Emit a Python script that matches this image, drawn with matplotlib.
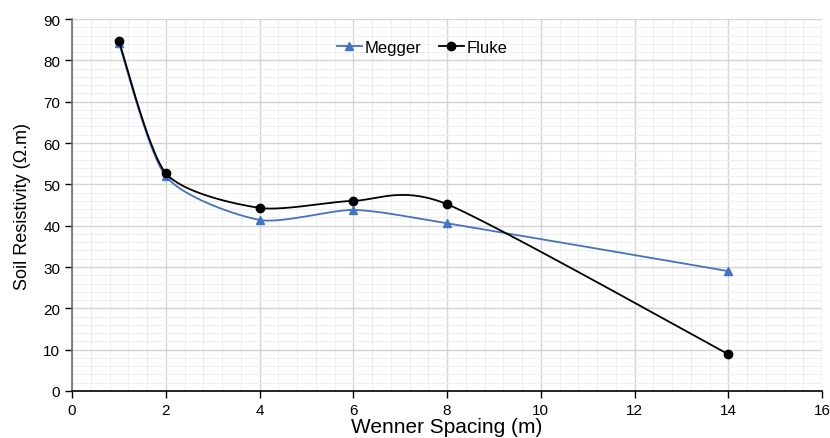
import numpy as np
import matplotlib
matplotlib.use("Agg")
import matplotlib.pyplot as plt

plt.rcParams['font.family'] = ['Liberation Sans', 'DejaVu Sans']

spacing = [1, 2, 4, 6, 8, 14]
megger = [84.2, 52.0, 41.4, 43.8, 40.6, 29.0]
fluke = [84.7, 52.7, 44.3, 46.0, 45.2, 8.9]

x_ticks = [0, 2, 4, 6, 8, 10, 12, 14, 16]
y_ticks = [0, 10, 20, 30, 40, 50, 60, 70, 80, 90]


def smooth(xs, ys, k=0.12, n=50):
    """Smoothed line (cardinal Bezier) drawn through the data points."""
    P = np.column_stack([xs, ys]).astype(float)
    out = []
    for i in range(len(P) - 1):
        p0 = P[i - 1] if i > 0 else P[i]
        p1 = P[i]
        p2 = P[i + 1]
        p3 = P[i + 2] if i + 2 < len(P) else P[i + 1]
        c1 = p1 + (p2 - p0) * k
        c2 = p2 - (p3 - p1) * k
        t = np.linspace(0, 1, n)[:, None]
        seg = ((1 - t) ** 3) * p1 + 3 * ((1 - t) ** 2) * t * c1 + 3 * (1 - t) * t ** 2 * c2 + t ** 3 * p2
        out.append(seg if i == 0 else seg[1:])
    out = np.vstack(out)
    return out[:, 0], out[:, 1]


fig = plt.figure(figsize=(8.3, 4.39), dpi=100)
ax = fig.add_axes([72 / 830, 1 - 392 / 439, 750 / 830, 372 / 439])

blue = '#4472C4'
sx, sy = smooth(spacing, megger)
ax.plot(sx, sy, color=blue, lw=1.3, zorder=3)
ax.plot(spacing, megger, ls='none', marker='^', color=blue, ms=6, zorder=4)
fx, fy = smooth(spacing, fluke)
ax.plot(fx, fy, color='black', lw=1.3, zorder=5)
ax.plot(spacing, fluke, ls='none', marker='o', color='black', ms=6, zorder=6)

# legend proxies
ax.plot([], [], color=blue, marker='^', ms=6, lw=1.3, label='Megger')
ax.plot([], [], color='black', marker='o', ms=6, lw=1.3, label='Fluke')
ax.legend(loc='upper center', bbox_to_anchor=(0.467, 0.985), ncol=2, frameon=False,
          fontsize=12, handlelength=1.5, handletextpad=0.2, columnspacing=1.0)

ax.set_xlim(0, 16)
ax.set_ylim(0, 90)
ax.set_xticks(x_ticks)
ax.set_yticks(y_ticks)
ax.set_xticks(np.arange(0, 16.01, 0.4), minor=True)
ax.set_yticks(np.arange(0, 90.01, 2), minor=True)
ax.tick_params(axis='both', which='major', labelsize=11, direction='out', length=5, width=1)
ax.tick_params(axis='both', which='minor', length=0)
ax.grid(True, which='major', color='#d4d4d4', lw=1)
ax.grid(True, which='minor', color='#efefef', lw=0.8)
ax.set_axisbelow(True)

for s in ['top', 'right']:
    ax.spines[s].set_visible(False)
ax.spines['left'].set_color('#6e6e6e')
ax.spines['left'].set_linewidth(1.2)
ax.spines['bottom'].set_color('black')
ax.spines['bottom'].set_linewidth(1.2)

ax.set_xlabel('Wenner Spacing (m)', fontsize=15, labelpad=0)
ax.set_ylabel('Soil Resistivity (Ω.m)', fontsize=13, labelpad=9)

fig.savefig('out.png', dpi=100)
